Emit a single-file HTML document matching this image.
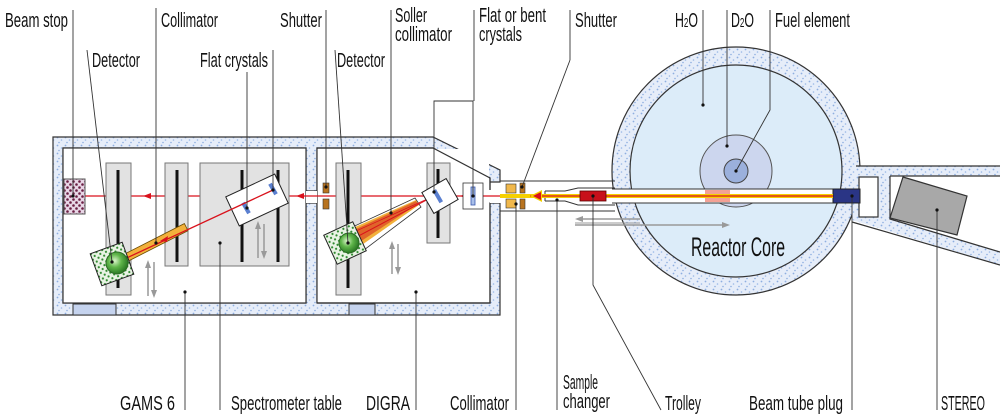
<!DOCTYPE html>
<html><head><meta charset="utf-8"><style>
html,body{margin:0;padding:0;background:#fff;}
svg{display:block;}
text{font-family:"Liberation Sans Narrow","Liberation Sans",sans-serif;font-size:20px;fill:#111;}
</style></head><body>
<svg width="1000" height="420" viewBox="0 0 1000 420" xmlns="http://www.w3.org/2000/svg">
<defs>
<pattern id="dots" width="8" height="8" patternUnits="userSpaceOnUse">
<rect width="8" height="8" fill="#e6edf9"/>
<circle cx="1.5" cy="1.5" r="0.9" fill="#8eaee0"/>
<circle cx="5.5" cy="4" r="0.8" fill="#9ab8e6"/>
<circle cx="3" cy="6.5" r="0.8" fill="#8eaee0"/>
</pattern>
<pattern id="stop" width="6" height="6" patternUnits="userSpaceOnUse">
<rect width="6" height="6" fill="#e8d6e6"/>
<circle cx="1.5" cy="1.5" r="1.3" fill="#6a1d42"/>
<circle cx="4.5" cy="4.5" r="1.3" fill="#6a1d42"/>
</pattern>
<pattern id="grn" width="6" height="6" patternUnits="userSpaceOnUse">
<rect width="6" height="6" fill="#e9f3e4"/>
<circle cx="1.5" cy="1.5" r="1.1" fill="#2f8a2f"/>
<circle cx="4.5" cy="4.5" r="1.1" fill="#2f8a2f"/>
</pattern>
<radialGradient id="ball" cx="40%" cy="40%" r="60%"><stop offset="0" stop-color="#d9f5c9"/><stop offset="0.5" stop-color="#5fb54a"/><stop offset="1" stop-color="#2c7b25"/></radialGradient>
</defs>

<circle cx="736" cy="171" r="124" fill="url(#dots)" stroke="#333" stroke-width="1.2"/>
<circle cx="736" cy="171" r="106" fill="#dcecf9" stroke="#333" stroke-width="1.2"/>
<circle cx="736" cy="171" r="36" fill="#ccd6ee" stroke="#555" stroke-width="1"/>
<circle cx="736" cy="171" r="12" fill="#9bb0dc" stroke="#444" stroke-width="1"/>
<text x="691" y="256" textLength="94" lengthAdjust="spacingAndGlyphs" style="font-size:27px">Reactor Core</text>

<path d="M855,166 L1000,166 L1000,176 L890,176 L890,219 L1000,252 L1000,265 L852,220 L850,176 Z" fill="url(#dots)"/>
<path d="M856,166 L1000,166 M890,176 L1000,176 M890,176 L890,219 L1000,252 M852,222 L1000,265" stroke="#333" stroke-width="1.2" fill="none"/>
<rect x="859" y="177" width="19" height="40" fill="#fff" stroke="#333" stroke-width="1.2"/>
<polygon points="903,177 967,196 957,235 890,218" fill="#a8a8a8" stroke="#333" stroke-width="1.2"/>

<path d="M53,137 L433,137 L500,170 L500,182 L490,182 L490,190 L490,178 L433,148 L317,148 L317,191 L306,191 L306,148 L63,148 L63,303 L306,303 L306,203 L317,203 L317,303 L490,303 L490,203 L500,203 L500,315 L53,315 Z" fill="url(#dots)" stroke="#333" stroke-width="1.2"/>
<rect x="63" y="148" width="243" height="155" fill="#fff" stroke="#333" stroke-width="1.2"/>
<rect x="317" y="149" width="172" height="153" fill="#fff"/>
<polygon points="433,149 489,179 489,190 433,190" fill="#fff"/>
<path d="M317,303 L317,148 L433,148 L490,178 L490,190 M490,203 L490,303 L317,303" fill="none" stroke="#333" stroke-width="1.2"/>
<rect x="306" y="191" width="11" height="12" fill="#fff"/>
<rect x="490" y="191" width="11" height="12" fill="#fff"/>
<rect x="73" y="304" width="43" height="11" fill="#c5d3ee" stroke="#333" stroke-width="1"/>
<rect x="349" y="304" width="26" height="11" fill="#c5d3ee" stroke="#333" stroke-width="1"/>

<path d="M500,181 L615,181 M500,211 L615,211" stroke="#333" stroke-width="1"/>
<rect x="612" y="189" width="221" height="14" fill="#fff"/>
<path d="M612,189 L833,189 M612,203 L833,203" stroke="#333" stroke-width="1"/>
<path d="M545,191 L565,191 L578,188 L615,188 M545,201 L565,201 L578,205 L615,205 M545,191 L545,201" stroke="#333" stroke-width="1" fill="none"/>
<rect x="705" y="190" width="25" height="12" fill="#f08a7a" opacity="0.8"/>
<rect x="833" y="189" width="27" height="14" fill="#2a3585" stroke="#222"/>

<line x1="500" y1="196" x2="833" y2="196" stroke="#f5d000" stroke-width="4"/>
<line x1="530" y1="196" x2="833" y2="196" stroke="#d9121c" stroke-width="1.3"/>
<polygon points="530,196 542,190 542,202" fill="#f5d000"/>
<polygon points="533,196 541,192 541,200" fill="#d9121c"/>
<rect x="580" y="191" width="26" height="10" fill="#c8101a" stroke="#5a0000" stroke-width="0.8"/>
<line x1="85" y1="196" x2="500" y2="196" stroke="#d9121c" stroke-width="1.3"/>
<polygon points="143,196 151,193 151,199" fill="#d9121c"/>
<polygon points="296,196 304,193 304,199" fill="#d9121c"/>
<polygon points="460,196 468,193 468,199" fill="#d9121c"/>

<rect x="323" y="183" width="6" height="10" fill="#b8731f" stroke="#333" stroke-width="0.6"/>
<rect x="323" y="199" width="6" height="10" fill="#b8731f" stroke="#333" stroke-width="0.6"/>
<rect x="506" y="184" width="10" height="9" fill="#f0b84c" stroke="#333" stroke-width="0.6"/>
<rect x="506" y="199" width="10" height="9" fill="#f0b84c" stroke="#333" stroke-width="0.6"/>
<rect x="520" y="183" width="5" height="10" fill="#b8731f" stroke="#333" stroke-width="0.6"/>
<rect x="520" y="199" width="5" height="10" fill="#b8731f" stroke="#333" stroke-width="0.6"/>
<rect x="463" y="183" width="20" height="26" fill="#fff" stroke="#333" stroke-width="0.8"/>
<rect x="471" y="187" width="4" height="18" fill="#a9bfe9" stroke="#3a5ab0" stroke-width="0.8"/>

<rect x="64" y="179" width="21" height="35" fill="url(#stop)" stroke="#555"/>

<rect x="106" y="163" width="25" height="132" fill="#e2e2e2" stroke="#777"/>
<line x1="118" y1="170" x2="118" y2="288" stroke="#111" stroke-width="3"/>
<rect x="165" y="163" width="23" height="103" fill="#e2e2e2" stroke="#777"/>
<line x1="177" y1="170" x2="177" y2="262" stroke="#111" stroke-width="3"/>
<rect x="200" y="163" width="89" height="103" fill="#e2e2e2" stroke="#777"/>
<line x1="242" y1="170" x2="242" y2="262" stroke="#111" stroke-width="3"/>
<line x1="278" y1="170" x2="278" y2="262" stroke="#111" stroke-width="3"/>
<g transform="translate(257,200) rotate(-25)">
<rect x="-27" y="-16" width="54" height="32" fill="#fff" stroke="#222"/>
</g>
<rect x="244" y="202" width="4" height="12" fill="#5a7fd0" transform="rotate(-30 246 208)"/>
<rect x="271" y="183" width="4" height="12" fill="#5a7fd0" transform="rotate(-30 273 189)"/>
<g transform="translate(155,243) rotate(-27)">
<rect x="-35" y="-4" width="70" height="8" fill="#f2b13b" stroke="#6b4a00" stroke-width="0.8"/>
</g>
<line x1="273" y1="190" x2="118" y2="262" stroke="#d9121c" stroke-width="1.3"/>
<polygon points="160,241 168,236 167,242" fill="#d9121c"/>
<g transform="translate(112,264) rotate(-20)">
<rect x="-17" y="-17" width="34" height="34" fill="url(#grn)" stroke="#222"/>
</g>
<circle cx="117" cy="263" r="11" fill="url(#ball)" stroke="#2c6b25"/>
<g stroke="#999" stroke-width="1.5" fill="#999">
<line x1="148" y1="296" x2="148" y2="265"/><polygon points="148,260 145,268 151,268" stroke="none"/>
<line x1="154" y1="262" x2="154" y2="293"/><polygon points="154,298 151,290 157,290" stroke="none"/>
<line x1="258" y1="258" x2="258" y2="226"/><polygon points="258,221 255,229 261,229" stroke="none"/>
<line x1="264" y1="224" x2="264" y2="254"/><polygon points="264,259 261,251 267,251" stroke="none"/>
<line x1="392" y1="274" x2="392" y2="246"/><polygon points="392,241 389,249 395,249" stroke="none"/>
<line x1="398" y1="244" x2="398" y2="270"/><polygon points="398,275 395,267 401,267" stroke="none"/>
<line x1="443" y1="240" x2="443" y2="219"/><polygon points="443,214 440,221 446,221" stroke="none"/>
<line x1="447" y1="215" x2="447" y2="236"/><polygon points="447,241 444,234 450,234" stroke="none"/>
<line x1="580" y1="219" x2="640" y2="219"/><polygon points="575,219 583,216 583,222" stroke="none"/>
<line x1="575" y1="225" x2="725" y2="225"/><polygon points="730,225 722,222 722,228" stroke="none"/>
<line x1="575" y1="223" x2="640" y2="223" stroke-width="1"/>
</g>

<rect x="336" y="163" width="25" height="132" fill="#e2e2e2" stroke="#777"/>
<line x1="348" y1="170" x2="348" y2="288" stroke="#111" stroke-width="3"/>
<rect x="427" y="163" width="23" height="80" fill="#e2e2e2" stroke="#777"/>
<line x1="438" y1="169" x2="438" y2="238" stroke="#111" stroke-width="3"/>
<polygon points="415,198 421,207 360,253 333,236" fill="#fff" stroke="#333" stroke-width="0.8"/>
<polygon points="416,200 419,205 356,249 337,235" fill="#f2b13b"/>
<polygon points="416,201 418,204 352,247 341,236" fill="#e0642a"/>
<line x1="434" y1="196" x2="349" y2="241" stroke="#d9121c" stroke-width="1"/>
<line x1="434" y1="196" x2="345" y2="236" stroke="#d9121c" stroke-width="0.7"/>
<g transform="translate(440,196) rotate(-30)">
<rect x="-14" y="-12" width="28" height="24" fill="#fff" stroke="#222"/>
<rect x="-4" y="-8" width="4" height="14" fill="#5a7fd0"/>
</g>
<g transform="translate(345,243) rotate(-25)">
<rect x="-16" y="-16" width="32" height="32" fill="url(#grn)" stroke="#222"/>
</g>
<circle cx="349" cy="243" r="10" fill="url(#ball)" stroke="#2c6b25"/>

<g stroke="#333" stroke-width="0.9" fill="none">
<line x1="73" y1="10" x2="73" y2="196"/>
<line x1="87" y1="50" x2="112" y2="262"/>
<line x1="156" y1="8" x2="156" y2="243"/>
<line x1="247" y1="72" x2="247" y2="208"/>
<line x1="273" y1="50" x2="273" y2="190"/>
<line x1="326" y1="10" x2="326" y2="187"/>
<line x1="335" y1="50" x2="348" y2="243"/>
<line x1="391" y1="10" x2="391" y2="213"/>
<path d="M434,192 L434,101 L473,101 L473,196"/>
<line x1="474" y1="10" x2="474" y2="101"/>
<line x1="570" y1="10" x2="570" y2="60"/>
<line x1="570" y1="60" x2="522" y2="187"/>
<line x1="703" y1="10" x2="703" y2="105"/>
<line x1="727" y1="10" x2="727" y2="146"/>
<path d="M770,10 L770,110 L736,171"/>
<line x1="185" y1="292" x2="185" y2="410"/>
<line x1="220" y1="243" x2="220" y2="410"/>
<line x1="416" y1="292" x2="416" y2="410"/>
<line x1="516" y1="204" x2="516" y2="410"/>
<line x1="557" y1="200" x2="557" y2="410"/>
<path d="M593,196 L593,285 L661,410"/>
<line x1="852" y1="196" x2="852" y2="410"/>
<line x1="937" y1="210" x2="937" y2="410"/>
</g>
<g fill="#111">
<circle cx="73" cy="196" r="1.6"/><circle cx="112" cy="262" r="1.6"/><circle cx="156" cy="243" r="1.6"/>
<circle cx="247" cy="208" r="1.6"/><circle cx="273" cy="190" r="1.6"/><circle cx="326" cy="187" r="1.6"/>
<circle cx="348" cy="243" r="1.6"/><circle cx="391" cy="213" r="1.6"/><circle cx="434" cy="192" r="1.6"/>
<circle cx="473" cy="196" r="1.6"/><circle cx="522" cy="187" r="1.6"/><circle cx="703" cy="105" r="1.6"/>
<circle cx="727" cy="146" r="1.6"/><circle cx="736" cy="171" r="1.6"/><circle cx="185" cy="292" r="1.6"/>
<circle cx="220" cy="243" r="1.6"/><circle cx="416" cy="292" r="1.6"/><circle cx="516" cy="204" r="1.6"/>
<circle cx="557" cy="200" r="1.6"/><circle cx="593" cy="196" r="1.6"/><circle cx="852" cy="196" r="1.6"/>
<circle cx="937" cy="210" r="1.6"/>
</g>

<text x="5" y="27" textLength="63" lengthAdjust="spacingAndGlyphs">Beam stop</text>
<text x="161" y="27" textLength="57" lengthAdjust="spacingAndGlyphs">Collimator</text>
<text x="280" y="27" textLength="42" lengthAdjust="spacingAndGlyphs">Shutter</text>
<text x="395" y="22" textLength="32" lengthAdjust="spacingAndGlyphs">Soller</text>
<text x="395" y="41" textLength="57" lengthAdjust="spacingAndGlyphs">collimator</text>
<text x="479" y="22" textLength="67" lengthAdjust="spacingAndGlyphs">Flat or bent</text>
<text x="479" y="41" textLength="43" lengthAdjust="spacingAndGlyphs">crystals</text>
<text x="575" y="27" textLength="42" lengthAdjust="spacingAndGlyphs">Shutter</text>
<text x="675" y="27" textLength="23" lengthAdjust="spacingAndGlyphs">H<tspan style="font-size:13px">2</tspan>O</text>
<text x="731" y="27" textLength="23" lengthAdjust="spacingAndGlyphs">D<tspan style="font-size:13px">2</tspan>O</text>
<text x="775" y="27" textLength="75" lengthAdjust="spacingAndGlyphs">Fuel element</text>
<text x="92" y="67" textLength="48" lengthAdjust="spacingAndGlyphs">Detector</text>
<text x="200" y="67" textLength="68" lengthAdjust="spacingAndGlyphs">Flat crystals</text>
<text x="337" y="67" textLength="48" lengthAdjust="spacingAndGlyphs">Detector</text>
<text x="120" y="410" textLength="55" lengthAdjust="spacingAndGlyphs">GAMS 6</text>
<text x="231" y="410" textLength="111" lengthAdjust="spacingAndGlyphs">Spectrometer table</text>
<text x="366" y="410" textLength="44" lengthAdjust="spacingAndGlyphs">DIGRA</text>
<text x="450" y="410" textLength="59" lengthAdjust="spacingAndGlyphs">Collimator</text>
<text x="563" y="389" textLength="35" lengthAdjust="spacingAndGlyphs">Sample</text>
<text x="563" y="408" textLength="47" lengthAdjust="spacingAndGlyphs">changer</text>
<text x="665" y="410" textLength="36" lengthAdjust="spacingAndGlyphs">Trolley</text>
<text x="749" y="410" textLength="94" lengthAdjust="spacingAndGlyphs">Beam tube plug</text>
<text x="941" y="410" textLength="44" lengthAdjust="spacingAndGlyphs">STEREO</text>
</svg>
</body></html>
